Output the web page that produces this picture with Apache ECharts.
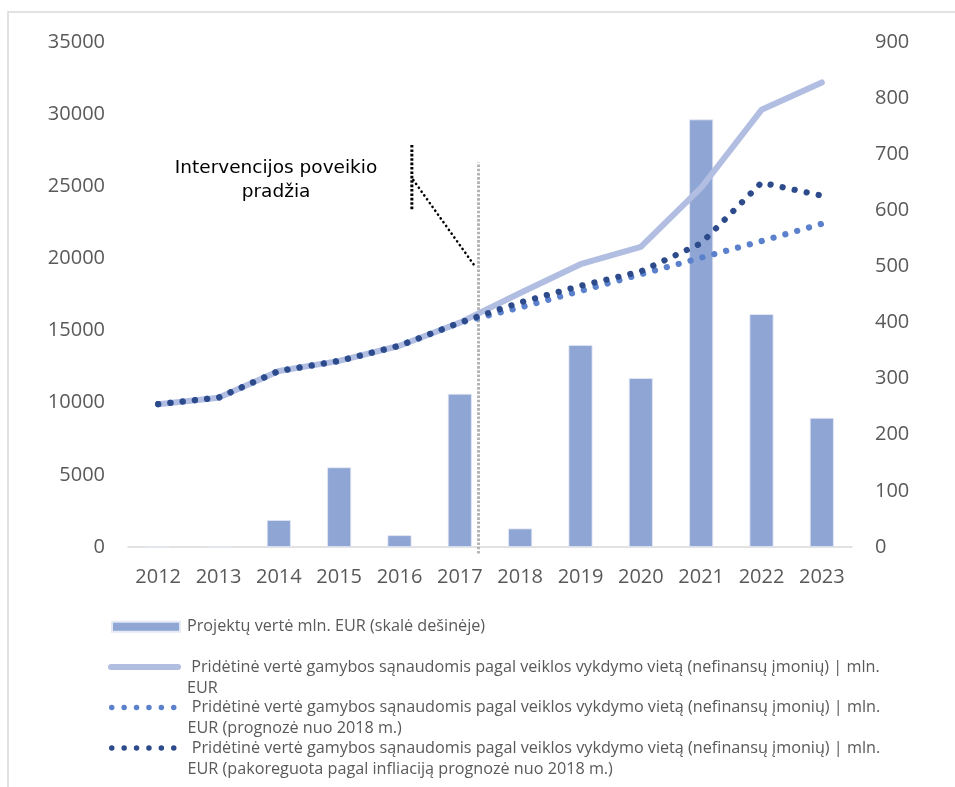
<!DOCTYPE html>
<html>
<head>
<meta charset="utf-8">
<script src="https://cdn.jsdelivr.net/npm/echarts@6/dist/echarts.min.js"></script>
<style>
  html, body { margin: 0; padding: 0; background: #ffffff; }
  #chart { width: 955px; height: 787px; }
</style>
</head>
<body>
<div id="chart"></div>
<script>
// Years on the category axis
const years = ['2012', '2013', '2014', '2015', '2016', '2017', '2018', '2019', '2020', '2021', '2022', '2023'];

// Project value, mln. EUR (right-hand scale)
const projectValue = [0, 0, 48, 142, 21, 273, 33, 360, 301, 762, 415, 230];

// Value added at factor cost by place of activity (non-financial enterprises), mln. EUR
const addedValue = [9900, 10350, 12200, 12900, 13950, 15550, 17600, 19600, 20800, 24900, 30300, 32200];

// Forecast from 2018
const addedValueForecast = [9900, 10350, 12200, 12900, 13950, 15550, 16600, 17750, 18900, 20050, 21200, 22400];

// Inflation-adjusted forecast from 2018
const addedValueAdjusted = [9900, 10350, 12200, 12900, 13950, 15550, 16950, 18100, 19100, 21050, 25250, 24350];

// Axis ranges
const leftMax = 35000, leftStep = 5000;
const rightMax = 900, rightStep = 100;

// Start of the intervention's effect (fractional year)
const interventionYear = 2017.31;

const nameBars = 'Projektų vertė mln. EUR (skalė dešinėje)';
const nameBase = 'Pridėtinė vertė gamybos sąnaudomis pagal veiklos vykdymo vietą (nefinansų įmonių) | mln. EUR';
const nameForecast = nameBase + ' (prognozė nuo 2018 m.)';
const nameAdjusted = nameBase + ' (pakoreguota pagal infliaciją prognozė nuo 2018 m.)';

// Two-line legend entries start with a blank line so the icon sits beside the first text line
const firstLine = ' Pridėtinė vertė gamybos sąnaudomis pagal veiklos vykdymo vietą (nefinansų įmonių) | mln.';
const legendText = {};
legendText[nameBars] = nameBars;
legendText[nameBase] = '\n' + firstLine + '\nEUR';
legendText[nameForecast] = '\n' + firstLine + '\nEUR (prognozė nuo 2018 m.)';
legendText[nameAdjusted] = '\n' + firstLine + '\nEUR (pakoreguota pagal infliaciją prognozė nuo 2018 m.)';

const C = {
  bar: '#8FA6D5',
  line: '#B1BEE2',
  forecast: '#5B80CC',
  adjusted: '#2D4B8B',
  axisText: '#595959',
  axisLine: '#D9D9D9'
};

const FONT = "'Open Sans', 'Liberation Sans', sans-serif";
const LEG_FS = 16.2, LEG_LH = 21;

function dotsPath(n, r, step) {
  let d = '';
  for (let i = 0; i < n; i++) {
    const cx = r + i * step;
    d += 'M' + (cx - r) + ',' + r + ' a' + r + ',' + r + ' 0 1,0 ' + (2 * r) + ',0 a' + r + ',' + r + ' 0 1,0 ' + (-2 * r) + ',0 Z ';
  }
  return 'path://' + d;
}
const dotsIcon = dotsPath(6, 2.75, 12.4);
const lineIcon = 'path://M3,0 L70,0 A3,3 0 0 1 70,6 L3,6 A3,3 0 0 1 3,0 Z';

function legendItem(name, icon, left, iconCenter, w, h, padLeft, lines) {
  const blockH = lines * LEG_LH;
  return {
    data: [name],
    left: left,
    top: iconCenter - Math.max(blockH, h) / 2,
    orient: 'vertical',
    padding: 0,
    icon: icon,
    itemWidth: w,
    itemHeight: h,
    selectedMode: false,
    formatter: function (n) { return legendText[n]; },
    textStyle: {
      color: C.axisText,
      fontFamily: FONT,
      fontSize: LEG_FS,
      lineHeight: LEG_LH,
      padding: [0, 0, 0, padLeft]
    }
  };
}

const plainNumber = function (v) { return String(v); };

const chart = echarts.init(document.getElementById('chart'), null, { renderer: 'canvas' });

const option = {
  animation: false,
  backgroundColor: '#ffffff',
  grid: { left: 128, right: 103, top: 42, bottom: 240, containLabel: false },
  legend: [
    legendItem(nameBars, 'rect', 111, 626.7, 68, 10, 2, 1),
    legendItem(nameBase, lineIcon, 108, 667, 73, 6, 1, 3),
    legendItem(nameForecast, dotsIcon, 109, 707.5, 67.5, 5.5, 6, 3),
    legendItem(nameAdjusted, dotsIcon, 109, 748, 67.5, 5.5, 6, 3)
  ],
  xAxis: [
    {
      type: 'category',
      data: years,
      boundaryGap: true,
      axisLine: { show: true, lineStyle: { color: C.axisLine, width: 1.5 } },
      axisTick: { show: false },
      axisLabel: { color: C.axisText, fontFamily: FONT, fontSize: 20, margin: 20 },
      splitLine: { show: false }
    },
    {
      // continuous year scale sharing the category band layout, for the intervention marker
      type: 'value',
      min: 2011.5,
      max: 2023.5,
      show: false
    }
  ],
  yAxis: [
    {
      type: 'value',
      min: 0,
      max: leftMax,
      interval: leftStep,
      axisLine: { show: false },
      axisTick: { show: false },
      splitLine: { show: false },
      axisLabel: { color: C.axisText, fontFamily: FONT, fontSize: 20, margin: 23, formatter: plainNumber }
    },
    {
      type: 'value',
      min: 0,
      max: rightMax,
      interval: rightStep,
      position: 'right',
      axisLine: { show: false },
      axisTick: { show: false },
      splitLine: { show: false },
      axisLabel: { color: C.axisText, fontFamily: FONT, fontSize: 20, margin: 23, formatter: plainNumber }
    }
  ],
  series: [
    {
      name: nameBars,
      type: 'bar',
      yAxisIndex: 1,
      data: projectValue,
      barWidth: 24,
      itemStyle: { color: C.bar, borderColor: '#E4E9F5', borderWidth: 0.8 },
      z: 1
    },
    {
      name: 'intervention',
      type: 'line',
      xAxisIndex: 1,
      yAxisIndex: 0,
      data: [[interventionYear, -450], [interventionYear, 26650]],
      symbol: 'none',
      clip: false,
      silent: true,
      itemStyle: { color: '#B4B4B4' },
      lineStyle: { color: '#B4B4B4', width: 3, type: [2.6, 1.6] },
      z: 2
    },
    {
      name: nameBase,
      type: 'line',
      data: addedValue,
      symbol: 'none',
      itemStyle: { color: C.line },
      lineStyle: { color: C.line, width: 6, cap: 'round', join: 'round' },
      z: 3
    },
    {
      name: nameForecast,
      type: 'line',
      data: addedValueForecast,
      symbol: 'none',
      itemStyle: { color: C.forecast },
      lineStyle: { color: C.forecast, width: 6.2, type: [0.1, 12.2], cap: 'round', join: 'round' },
      z: 4
    },
    {
      name: nameAdjusted,
      type: 'line',
      data: addedValueAdjusted,
      symbol: 'none',
      itemStyle: { color: C.adjusted },
      lineStyle: { color: C.adjusted, width: 6.2, type: [0.1, 12.2], cap: 'round', join: 'round' },
      z: 5
    }
  ]
};

chart.setOption(option);

// Callout: text with an accent bar and a leader line pointing at the intervention marker
function px(year, value) {
  return chart.convertToPixel({ xAxisIndex: 1, yAxisIndex: 0 }, [year, value]);
}
const barTop = px(2016.205, 27860);
const barBottom = px(2016.205, 23360);
const leaderFrom = px(2016.23, 25430);
const leaderTo = px(2017.255, 19430);
const textAt = px(2013.954, 25430);

chart.setOption({
  graphic: [
    {
      type: 'rect',
      shape: { x: 8, y: 12, width: 1200, height: 1200 },
      style: { fill: 'none', stroke: '#D9D9D9', lineWidth: 1.5 },
      silent: true,
      z: -10
    },
    {
      type: 'line',
      shape: { x1: barTop[0], y1: barTop[1], x2: barBottom[0], y2: barBottom[1] },
      style: { stroke: '#000000', lineWidth: 3, lineDash: [2.6, 1.8] },
      silent: true,
      z: 20
    },
    {
      type: 'line',
      shape: { x1: leaderFrom[0], y1: leaderFrom[1], x2: leaderTo[0], y2: leaderTo[1] },
      style: { stroke: '#000000', lineWidth: 2.6, lineDash: [0.1, 4.6], lineCap: 'round' },
      silent: true,
      z: 20
    },
    {
      type: 'text',
      x: textAt[0],
      y: textAt[1],
      style: {
        text: 'Intervencijos poveikio\npradžia',
        fill: '#000000',
        font: "18.5px 'DejaVu Sans', Verdana, sans-serif",
        lineHeight: 24,
        align: 'center',
        verticalAlign: 'middle'
      },
      silent: true,
      z: 20
    }
  ]
});
</script>
</body>
</html>
